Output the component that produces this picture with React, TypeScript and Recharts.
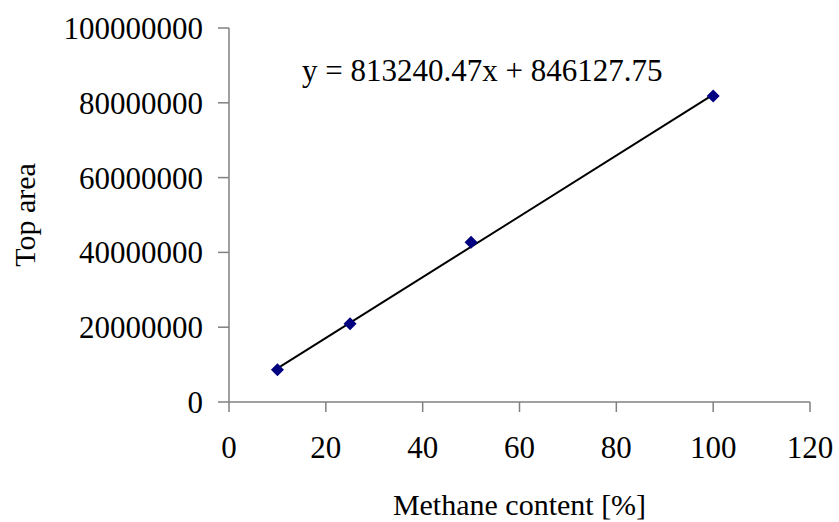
import {
  Customized,
  Scatter,
  ScatterChart,
  XAxis,
  YAxis,
} from 'recharts';

const methane = [10, 25, 50, 100];
const topArea = [8600000, 20900000, 42700000, 81800000];

// trendline end points, y = 813240.47x + 846127.75
const trendX = [10, 100];
const trendY = [8978532.45, 82170174.75];

const xTicks = [0, 20, 40, 60, 80, 100, 120];
const yTicks = [0, 20000000, 40000000, 60000000, 80000000, 100000000];

const EQUATION = 'y = 813240.47x + 846127.75';
const FONT = 'Liberation Serif';
const AXIS_GRAY = '#808080';

const labelStyle = { fontFamily: FONT, fontSize: 30 };
const tickStyle = { fontFamily: FONT, fontSize: 31 };

const points = methane.map((x, i) => ({ x, y: topArea[i] }));
const trend = trendX.map((x, i) => ({ x, y: trendY[i] }));

function Diamond(props: any) {
  const { cx, cy } = props;
  const r = 6.5;
  return (
    <polygon
      points={`${cx},${cy - r} ${cx + r},${cy} ${cx},${cy + r} ${cx - r},${cy}`}
      fill="#000080"
    />
  );
}

const NoDot = () => <g />;

export default function App() {
  return (
    <div style={{ position: 'absolute', left: 0, top: 0, fontFamily: FONT }}>
      <ScatterChart
        width={839}
        height={522}
        margin={{ top: 28, right: 29, left: 0, bottom: 0 }}
        style={{ fontFamily: FONT }}
      >
        <XAxis
          type="number"
          dataKey="x"
          domain={[0, 120]}
          ticks={xTicks}
          height={120}
          tickSize={10}
          tickMargin={24}
          axisLine={{ stroke: AXIS_GRAY, strokeWidth: 1.5 }}
          tickLine={{ stroke: AXIS_GRAY, strokeWidth: 1.5 }}
          tick={{ fill: '#000', fontSize: 31, fontFamily: FONT, style: tickStyle }}
          label={{
            content: ({ viewBox }: any) => (
              <text
                x={viewBox.x + viewBox.width / 2}
                y={515}
                textAnchor="middle"
                style={labelStyle}
                fill="#000"
              >
                Methane content [%]
              </text>
            ),
          }}
        />
        <YAxis
          type="number"
          dataKey="y"
          domain={[0, 100000000]}
          ticks={yTicks}
          width={229}
          tickSize={11}
          tickMargin={15}
          interval={0}
          tickFormatter={(v: number) => String(v)}
          axisLine={{ stroke: AXIS_GRAY, strokeWidth: 1.5 }}
          tickLine={{ stroke: AXIS_GRAY, strokeWidth: 1.5 }}
          tick={{ fill: '#000', fontSize: 31, fontFamily: FONT, style: tickStyle }}
          label={{
            content: ({ viewBox }: any) => {
              const cy = viewBox.y + viewBox.height / 2;
              return (
                <text
                  x={35}
                  y={cy}
                  transform={`rotate(-90, 35, ${cy})`}
                  textAnchor="middle"
                  style={labelStyle}
                  fill="#000"
                >
                  Top area
                </text>
              );
            },
          }}
        />
        <Scatter
          data={trend}
          line={{ stroke: '#000', strokeWidth: 2 }}
          lineType="joint"
          shape={NoDot}
          isAnimationActive={false}
        />
        <Scatter data={points} shape={Diamond} isAnimationActive={false} />
        <Customized
          component={() => (
            <text x={302} y={81} style={tickStyle} fill="#000">
              {EQUATION}
            </text>
          )}
        />
      </ScatterChart>
    </div>
  );
}
